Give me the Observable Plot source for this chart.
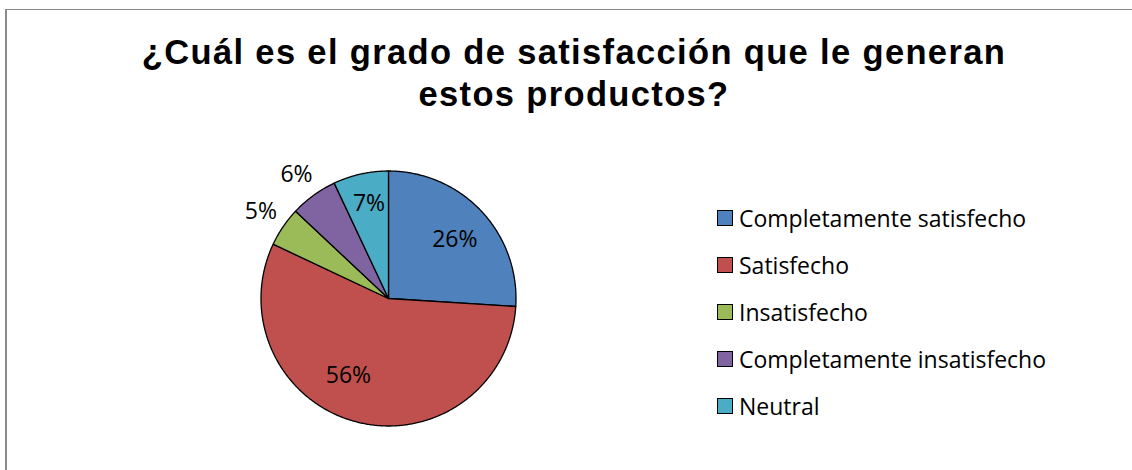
<!DOCTYPE html>
<html>
<head>
<meta charset="utf-8">
<script src="https://cdn.jsdelivr.net/npm/d3@7"></script>
<script src="https://cdn.jsdelivr.net/npm/@observablehq/plot@0.6"></script>
<style>
  html, body { margin: 0; padding: 0; background: #fff; }
  #root { position: relative; width: 1132px; height: 470px; overflow: hidden; background: #fff; }
  #frame { position: absolute; left: 5px; top: 9px; width: 1300px; height: 600px;
           border-left: 2px solid #8a8a8a; border-top: 1px solid #8a8a8a; }
  .title { position: absolute; left: 0; width: 1148px; text-align: center;
           font-family: "Liberation Sans", Arial, sans-serif; font-weight: bold;
           font-size: 34.5px; letter-spacing: 1.35px; line-height: 42px; color: #000; white-space: nowrap; }
  #pie { position: absolute; left: 208px; top: 128px; }
  #legend { position: absolute; left: 717px; top: 194px;
            font-family: "Open Sans", sans-serif; font-size: 23px; color: #000; }
  .row { display: flex; align-items: center; height: 47.2px; white-space: nowrap; }
  .sw { width: 14px; height: 14px; border: 1px solid #000; margin-right: 6px; flex: none; }
</style>
</head>
<body>
<div id="root">
  <div id="frame"></div>
  <div class="title" style="top:31px">¿Cuál es el grado de satisfacción que le generan</div>
  <div class="title" style="top:73px">estos productos?</div>
  <div id="pie"></div>
  <div id="legend"></div>
</div>
<script>
// ---- data ----
const categories = ["Completamente satisfecho", "Satisfecho", "Insatisfecho", "Completamente insatisfecho", "Neutral"];
const percents = [26, 56, 5, 6, 7];
const labels = ["26%", "56%", "5%", "6%", "7%"];
const colors = ["#4F81BD", "#C0504D", "#9BBB59", "#8064A2", "#4BACC6"];

// ---- layout ----
const R = 127.5;          // pie radius in px
const W = 360, H = 340;   // svg size
const cxPx = 180, cyPx = 170;

const pieGen = d3.pie().sort(null).value(d => d.v).startAngle(0).endAngle(2 * Math.PI);
const rows = categories.map((c, i) => ({cat: c, v: percents[i], label: labels[i]}));
const arcs = pieGen(rows);

// polygon points for each slice (centre -> arc -> centre)
const slicePts = [];
arcs.forEach(a => {
  const c = a.data.cat;
  slicePts.push({cat: c, x: 0, y: 0});
  const n = Math.max(2, Math.ceil((a.endAngle - a.startAngle) / (Math.PI / 360)));
  for (let k = 0; k <= n; k++) {
    const t = a.startAngle + (a.endAngle - a.startAngle) * k / n;
    slicePts.push({cat: c, x: Math.sin(t), y: Math.cos(t)});
  }
  slicePts.push({cat: c, x: 0, y: 0});
});

// label placement: inside for larger slices, outside for small ones
const nudge = {"Satisfecho": [-0.14, 0.07], "Neutral": [0, 0.06], "Completamente satisfecho": [0.01, -0.02], "Completamente insatisfecho": [-0.01, -0.01]};
const labelPts = arcs.map(a => {
  const m = (a.startAngle + a.endAngle) / 2;
  const r = a.data.v >= 7 ? 0.7 : 1.21;
  const nd = nudge[a.data.cat] || [0, 0];
  return {cat: a.data.cat, label: a.data.label, x: r * Math.sin(m) + nd[0], y: r * Math.cos(m) + nd[1]};
});

const chart = Plot.plot({
  width: W, height: H,
  margin: 0,
  x: {domain: [-cxPx / R, (W - cxPx) / R], axis: null},
  y: {domain: [-(H - cyPx) / R, cyPx / R], axis: null},
  color: {domain: categories, range: colors},
  style: {background: "transparent", overflow: "visible"},
  marks: [
    Plot.line(slicePts, {x: "x", y: "y", z: "cat", fill: "cat", stroke: "#000", strokeWidth: 1.3, strokeLinejoin: "round", curve: "linear"}),
    Plot.text(labelPts, {x: "x", y: "y", text: "label", fill: "#000", fontSize: 23, fontFamily: "Open Sans, sans-serif", textAnchor: "middle"})
  ]
});
document.getElementById("pie").appendChild(chart);

// legend (HTML)
const leg = document.getElementById("legend");
categories.forEach((c, i) => {
  const row = document.createElement("div");
  row.className = "row";
  const sw = document.createElement("div");
  sw.className = "sw";
  sw.style.background = colors[i];
  const tx = document.createElement("span");
  tx.textContent = c;
  row.appendChild(sw);
  row.appendChild(tx);
  leg.appendChild(row);
});
</script>
</body>
</html>
